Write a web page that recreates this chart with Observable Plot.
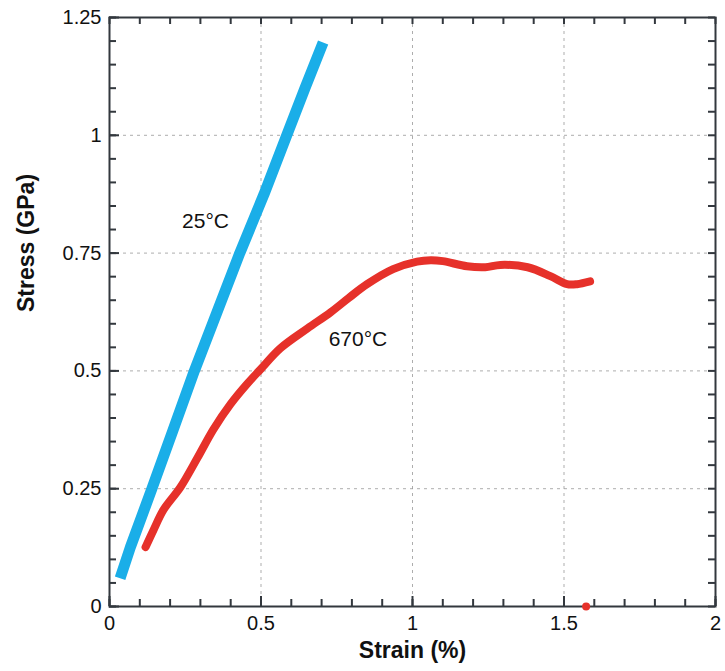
<!DOCTYPE html>
<html><head><meta charset="utf-8">
<script src="https://cdn.jsdelivr.net/npm/d3@7"></script>
<script src="https://cdn.jsdelivr.net/npm/@observablehq/plot@0.6"></script>
<style>body{margin:0;background:#fff;font-family:"Liberation Sans",Arial,sans-serif}</style>
</head><body><div id="chart"></div>
<script>
const blueStrain = [0.035, 0.069, 0.14, 0.21, 0.28, 0.355, 0.43, 0.51, 0.585, 0.645, 0.705];
const blueStress = [0.06, 0.126, 0.25, 0.375, 0.5, 0.625, 0.75, 0.875, 1.0, 1.1, 1.197];
const redStrain = [0.119, 0.145, 0.178, 0.234, 0.29, 0.343, 0.40, 0.455, 0.498, 0.564, 0.653, 0.729, 0.79, 0.85, 0.936, 1.015, 1.06, 1.10, 1.18, 1.24, 1.29, 1.38, 1.455, 1.51, 1.543, 1.586];
const redStress = [0.126, 0.162, 0.205, 0.253, 0.315, 0.376, 0.43, 0.473, 0.503, 0.548, 0.59, 0.624, 0.655, 0.684, 0.716, 0.732, 0.735, 0.733, 0.722, 0.72, 0.725, 0.72, 0.701, 0.684, 0.684, 0.69];
const outlier = {strain: 1.573, stress: 0.0};
const xTicks = [0, 0.5, 1, 1.5, 2];
const yTicks = [0, 0.25, 0.5, 0.75, 1, 1.25];
const xMinor = d3.range(0, 2.0001, 0.1);
const yMinor = d3.range(0, 1.2501, 0.05);
const labels = [{x: 0.317, y: 0.818, t: "25°C"}, {x: 0.82, y: 0.567, t: "670°C"}];

const blue = blueStrain.map((x, i) => ({x, y: blueStress[i]}));
const red = redStrain.map((x, i) => ({x, y: redStress[i]}));
const fmt = d => String(d);
const axisColor = "#33383e";
const W = 725, H = 671, mT = 17, mL = 109, mR = 10, mB = 65;
const pw = W - mL - mR, ph = H - mT - mB;
const minorLen = 7, majorLen = 10;

const chart = Plot.plot({
  width: W, height: H,
  marginTop: mT, marginLeft: mL, marginRight: mR, marginBottom: mB,
  style: {fontFamily: "'Liberation Sans', Arial, sans-serif", fontSize: "20px", color: "#111", background: "white"},
  x: {domain: [0, 2]},
  y: {domain: [0, 1.25]},
  marks: [
    Plot.frame({stroke: axisColor, strokeWidth: 2, fill: "none"}),
    Plot.gridX(xTicks.slice(1, -1), {stroke: "#999", strokeOpacity: 0.8, strokeDasharray: "3,4"}),
    Plot.gridY(yTicks.slice(1, -1), {stroke: "#999", strokeOpacity: 0.8, strokeDasharray: "3,4"}),
    Plot.line(blue, {x: "x", y: "y", stroke: "#1aaee8", strokeWidth: 11, strokeLinecap: "butt", strokeLinejoin: "round"}),
    Plot.line(red, {x: "x", y: "y", curve: "catmull-rom", stroke: "#e6312a", strokeWidth: 8, strokeLinecap: "round", strokeLinejoin: "round"}),
    Plot.dot([outlier], {x: "strain", y: "stress", r: 4, fill: "#e6312a"}),
    Plot.text(labels, {x: "x", y: "y", text: "t", fontSize: 21, fill: "#111"}),
    // inward ticks on all four sides (frame-spanning ticks trimmed by insets)
    Plot.tickX(xMinor, {x: d => d, insetTop: ph - minorLen, stroke: axisColor, strokeWidth: 2}),
    Plot.tickX(xMinor, {x: d => d, insetBottom: ph - minorLen, stroke: axisColor, strokeWidth: 2}),
    Plot.tickY(yMinor, {y: d => d, insetRight: pw - minorLen, stroke: axisColor, strokeWidth: 2}),
    Plot.tickY(yMinor, {y: d => d, insetLeft: pw - minorLen, stroke: axisColor, strokeWidth: 2}),
    Plot.tickX(xTicks, {x: d => d, insetTop: ph - majorLen, stroke: axisColor, strokeWidth: 2}),
    Plot.tickY(yTicks, {y: d => d, insetRight: pw - majorLen, stroke: axisColor, strokeWidth: 2}),
    Plot.axisX(xTicks, {anchor: "bottom", tickSize: 0, tickPadding: 9, tickFormat: fmt, fontSize: 20, fill: "#111", label: null}),
    Plot.axisY(yTicks, {anchor: "left", tickSize: 0, tickPadding: 8, tickFormat: fmt, fontSize: 20, fill: "#111", label: null}),
    Plot.text(["Strain (%)"], {frameAnchor: "bottom", dy: 51, fontWeight: "bold", fontSize: 23, fill: "#111"}),
    Plot.text(["Stress (GPa)"], {frameAnchor: "left", dx: -83, rotate: -90, fontWeight: "bold", fontSize: 23, fill: "#111"})
  ]
});
document.getElementById("chart").append(chart);
</script></body></html>
